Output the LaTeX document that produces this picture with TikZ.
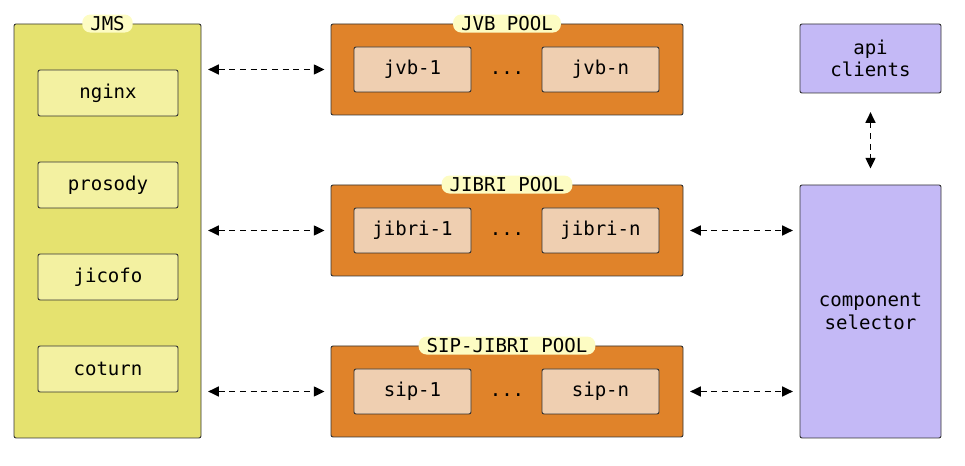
\documentclass[tikz,border=0pt]{standalone}
\usepackage{fontspec}
\setmonofont{DejaVu Sans Mono}
\usetikzlibrary{arrows.meta}

\begin{document}
\begin{tikzpicture}[x=0.75pt,y=-0.75pt,
	box/.style={draw=black!80,line width=0.7pt,rounded corners=1.5pt,font=\ttfamily\fontsize{14.3}{17}\selectfont,align=center,inner sep=0pt},
	jmsbox/.style={box,fill=jmsyellow,minimum width=140.25pt,minimum height=310.5pt},
	svcbox/.style={box,fill=svcyellow,minimum width=105pt,minimum height=34.5pt},
	poolbox/.style={box,fill=poolorange,minimum width=264pt,minimum height=68.25pt},
	workerbox/.style={box,fill=workerbeige,minimum width=87.75pt,minimum height=33.75pt},
	apibox/.style={box,fill=lilac,minimum width=105.75pt,minimum height=51.75pt},
	tag/.style={fill=tagyellow,rounded corners=6pt,inner xsep=6pt,inner ysep=0pt,minimum height=13.5pt,font=\ttfamily\fontsize{14.3}{17}\selectfont},
	dots/.style={anchor=base,inner sep=0pt,font=\ttfamily\fontsize{14.3}{17}\selectfont},
	link/.style={dash pattern=on 4.5pt off 3.5pt,line width=0.9pt,{Triangle[length=8pt,width=7.5pt]}-{Triangle[length=8pt,width=7.5pt]}}]
					\definecolor{jmsyellow}{HTML}{E5E26F}
					\definecolor{svcyellow}{HTML}{F3F1A1}
					\definecolor{poolorange}{HTML}{E0832A}
					\definecolor{workerbeige}{HTML}{EFCFB1}
					\definecolor{lilac}{HTML}{C4B9F6}
					\definecolor{tagyellow}{HTML}{FDFCC3}
					\useasboundingbox (0,0) rectangle (965,466);

					% JMS column
					\node[jmsbox] (jms) at (107.5,231) {};
					\node[tag] (jmstag) at (jms.north) {JMS};
					\node[svcbox] (nginx) at (108,93) {nginx};
					\node[svcbox] (prosody) at (108,185) {prosody};
					\node[svcbox] (jicofo) at (108,277) {jicofo};
					\node[svcbox] (coturn) at (108,369) {coturn};

					% pools
					\node[poolbox] (jvb) at (507,69.5) {};
					\node[tag] (jvbtag) at (jvb.north) {JVB POOL};
					\node[workerbox] (jvb1) at (412.5,69.5) {jvb-1};
					\node[workerbox] (jvbn) at (600.5,69.5) {jvb-n};
					\node[dots] (jvbdots) at (jvb.center |- jvb1.base) {...};

					\node[poolbox] (jibri) at (507,230.5) {};
					\node[tag] (jibritag) at (jibri.north) {JIBRI POOL};
					\node[workerbox] (jibri1) at (412.5,230.5) {jibri-1};
					\node[workerbox] (jibrin) at (600.5,230.5) {jibri-n};
					\node[dots] (jibridots) at (jibri.center |- jibri1.base) {...};

					\node[poolbox] (sip) at (507,391.5) {};
					\node[tag] (siptag) at (sip.north) {SIP-JIBRI POOL};
					\node[workerbox] (sip1) at (412.5,391.5) {sip-1};
					\node[workerbox] (sipn) at (600.5,391.5) {sip-n};
					\node[dots] (sipdots) at (sip.center |- sip1.base) {...};

					% right column
					\node[apibox] (api) at (870.5,58.5) {api\\clients};
					\node[apibox,minimum height=189.75pt] (selector) at (870.5,311.5) {component\\selector};

					% links
					\draw[link,shorten <=5pt,shorten >=4.5pt] (jms.east |- jvb.west) -- (jvb.west);
					\draw[link,shorten <=5pt,shorten >=4.5pt] (jms.east |- jibri.west) -- (jibri.west);
					\draw[link,shorten <=5pt,shorten >=4.5pt] (jms.east |- sip.west) -- (sip.west);
					\draw[link,shorten <=5pt,shorten >=5pt] (jibri.east) -- (selector.west |- jibri.east);
					\draw[link,shorten <=5pt,shorten >=5pt] (sip.east) -- (selector.west |- sip.east);
					\draw[link,shorten <=14pt,shorten >=12pt] (api) -- (api |- selector.north);
				\end{tikzpicture}
\end{document}
